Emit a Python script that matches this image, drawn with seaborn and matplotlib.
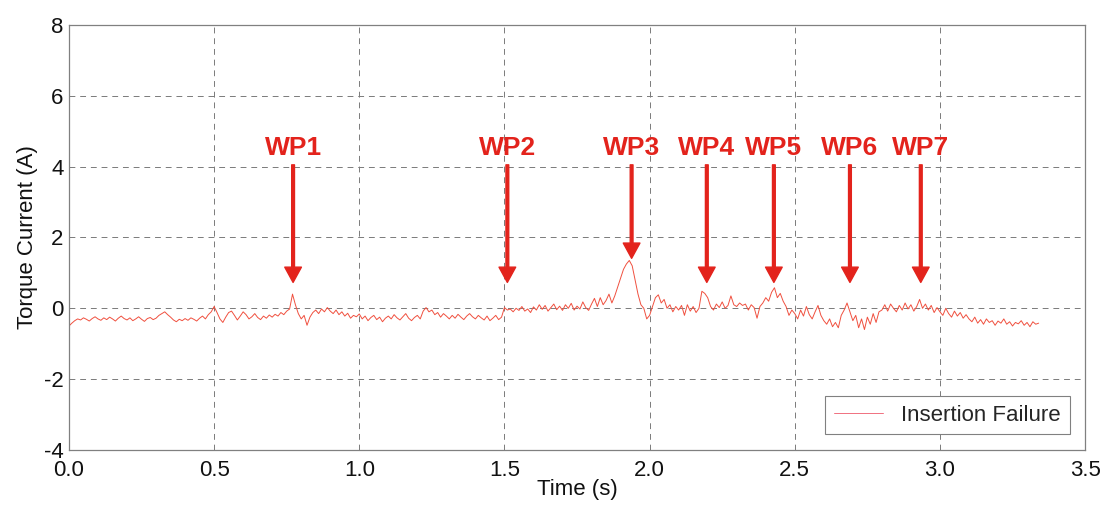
import numpy as np
import pandas as pd
import seaborn as sns
from matplotlib import pyplot as plt
import matplotlib.ticker as mticker

sns.set_style('white')
plt.rcParams['font.family'] = ['Liberation Sans', 'DejaVu Sans']
plt.rcParams['axes.unicode_minus'] = False

# torque current signal, sampled every 10 ms from 0.00 s to 3.34 s
t_end = 3.34
current = [
    -0.50, -0.42, -0.35, -0.30, -0.33, -0.27, -0.31, -0.36, -0.29, -0.24,
    -0.30, -0.34, -0.27, -0.32, -0.25, -0.30, -0.36, -0.28, -0.22, -0.29,
    -0.33, -0.27, -0.35, -0.30, -0.24, -0.31, -0.37, -0.29, -0.26, -0.32,
    -0.28, -0.20, -0.15, -0.10, -0.18, -0.25, -0.33, -0.38, -0.31, -0.35,
    -0.29, -0.34, -0.27, -0.31, -0.36, -0.28, -0.22, -0.30, -0.18, -0.10,
    0.05, -0.12, -0.30, -0.40, -0.25, -0.12, -0.08, -0.20, -0.33, -0.22,
    -0.10, -0.18, -0.30, -0.24, -0.15, -0.26, -0.32, -0.22, -0.28, -0.19,
    -0.25, -0.17, -0.22, -0.12, -0.18, -0.08, -0.02, 0.40, 0.10, -0.15,
    -0.30, -0.20, -0.48, -0.25, -0.12, -0.05, -0.15, -0.02, -0.10, 0.02,
    -0.08, -0.15, -0.05, -0.18, -0.10, -0.22, -0.14, -0.28, -0.20, -0.24,
    -0.16, -0.30, -0.22, -0.35, -0.26, -0.20, -0.32, -0.25, -0.38, -0.28,
    -0.22, -0.30, -0.18, -0.27, -0.33, -0.24, -0.15, -0.28, -0.35, -0.26,
    -0.20, -0.30, -0.08, 0.02, -0.10, -0.05, -0.18, -0.12, -0.25, -0.15,
    -0.22, -0.30, -0.20, -0.28, -0.17, -0.25, -0.32, -0.22, -0.15, -0.24,
    -0.30, -0.20, -0.27, -0.33, -0.22, -0.35, -0.28, -0.20, -0.32, -0.25,
    0.02, -0.05, -0.02, -0.10, 0.00, -0.06, 0.05, -0.08, -0.02, -0.12,
    0.04, -0.05, 0.10, -0.03, 0.08, -0.08, 0.02, 0.12, -0.04, 0.06,
    -0.06, 0.10, 0.00, 0.14, -0.05, 0.06, -0.02, 0.18, 0.02, -0.06,
    0.12, 0.28, 0.05, 0.30, 0.10, 0.22, 0.40, 0.15, 0.35, 0.60,
    0.85, 1.10, 1.25, 1.35, 1.20, 0.80, 0.40, 0.10, 0.00, -0.30,
    -0.20, 0.05, 0.30, 0.38, 0.15, 0.25, 0.00, 0.10, -0.10, 0.05,
    -0.05, 0.08, -0.20, 0.10, -0.08, 0.05, -0.12, 0.00, 0.48, 0.42,
    0.30, 0.05, -0.05, 0.12, 0.02, 0.18, 0.00, 0.08, 0.35, 0.10,
    0.05, 0.15, 0.08, 0.12, -0.05, 0.10, 0.02, -0.28, 0.05, 0.15,
    0.30, 0.20, 0.45, 0.58, 0.30, 0.42, 0.20, 0.05, -0.20, -0.05,
    -0.15, -0.30, -0.05, -0.22, 0.05, -0.18, -0.30, -0.10, 0.08, -0.20,
    -0.35, -0.45, -0.30, -0.52, -0.40, -0.55, -0.20, -0.05, 0.15, -0.10,
    -0.35, -0.20, -0.55, -0.30, -0.60, -0.25, -0.45, -0.15, -0.40, -0.10,
    -0.05, 0.10, -0.08, 0.12, 0.00, -0.10, 0.08, -0.05, 0.15, -0.02,
    0.10, -0.08, 0.05, 0.25, 0.00, 0.12, -0.05, 0.08, -0.12, 0.02,
    -0.10, -0.20, 0.00, -0.15, -0.25, -0.08, -0.22, -0.12, -0.28, -0.18,
    -0.30, -0.38, -0.25, -0.42, -0.32, -0.45, -0.30, -0.40, -0.35, -0.48,
    -0.36, -0.42, -0.30, -0.45, -0.38, -0.50, -0.40, -0.44, -0.35, -0.48,
    -0.40, -0.52, -0.38, -0.45, -0.42,
]
time = np.linspace(0, t_end, len(current))

# way-point markers
wp_labels = ['WP1', 'WP2', 'WP3', 'WP4', 'WP5', 'WP6', 'WP7']
wp_times = [0.772, 1.510, 1.938, 2.197, 2.428, 2.690, 2.934]
wp_tips = [0.73, 0.73, 1.41, 0.73, 0.73, 0.73, 0.73]
arrow_top = 4.05
label_y = 4.52

xticks = [0.0, 0.5, 1.0, 1.5, 2.0, 2.5, 3.0, 3.5]
yticks = [-4, -2, 0, 2, 4, 6, 8]

df = pd.DataFrame({'Time (s)': time, 'Torque Current (A)': current})

fig = plt.figure(figsize=(11.05, 5.09), dpi=100)
ax = fig.add_axes([0.0624, 0.116, 0.9196, 0.835])

sns.lineplot(data=df, x='Time (s)', y='Torque Current (A)', ax=ax,
             color='#f0503f', linewidth=0.7, label='Insertion Failure')

red = '#e3231c'
for lab, xt, tip in zip(wp_labels, wp_times, wp_tips):
    ax.annotate('', xy=(xt, tip), xytext=(xt, arrow_top),
                arrowprops=dict(facecolor=red, edgecolor=red, width=2.0,
                                headwidth=12, headlength=11, shrink=0))
    ax.text(xt, label_y, lab, color=red, fontsize=19, fontweight='bold',
            ha='center', va='center')

ax.set_xlim(0, 3.5)
ax.set_ylim(-4, 8)
ax.set_xticks(xticks)
ax.set_yticks(yticks)
ax.xaxis.set_major_formatter(mticker.FormatStrFormatter('%.1f'))
ax.grid(True, color='#7a7a7a', linestyle=(0, (6, 5)), linewidth=0.7)
ax.tick_params(direction='in', length=4, color='#666666', labelsize=16,
               labelcolor='#111111', pad=4)
ax.tick_params(axis='x', pad=7)
for sp in ax.spines.values():
    sp.set_color('#808080')
    sp.set_linewidth(0.9)

ax.set_xlabel('Time (s)', fontsize=16, color='#111111', labelpad=-1)
ax.set_ylabel('Torque Current (A)', fontsize=16, color='#111111', labelpad=4)

leg = ax.legend(loc='lower right', fontsize=16, fancybox=False,
                framealpha=1, edgecolor='#808080', handlelength=2.2,
                borderaxespad=0.7)
leg.get_frame().set_linewidth(0.8)
leg.get_lines()[0].set_color('#f07080')

fig.savefig('out.png', dpi=100)
plt.close()
